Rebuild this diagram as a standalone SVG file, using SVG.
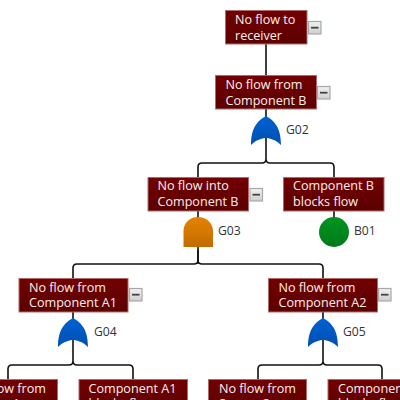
<svg xmlns="http://www.w3.org/2000/svg" width="400" height="400" viewBox="0 0 400 400">
<defs>
<linearGradient id="red" x1="0" y1="0" x2="0" y2="1"><stop offset="0" stop-color="#720000"/><stop offset="1" stop-color="#5c0000"/></linearGradient>
<linearGradient id="blue" x1="0" y1="0" x2="0" y2="1"><stop offset="0" stop-color="#0060d4"/><stop offset="1" stop-color="#0050b0"/></linearGradient>
<linearGradient id="orange" x1="0" y1="0" x2="0" y2="1"><stop offset="0" stop-color="#e68200"/><stop offset="1" stop-color="#c06c00"/></linearGradient>
<linearGradient id="green" x1="0" y1="0" x2="0" y2="1"><stop offset="0" stop-color="#009420"/><stop offset="1" stop-color="#007a1a"/></linearGradient>
<linearGradient id="btn" x1="0" y1="0" x2="0" y2="1"><stop offset="0" stop-color="#f2f2f2"/><stop offset="1" stop-color="#cfcfcf"/></linearGradient>
<path id="or" d="M0 -15C9 -10 15 -3 15 14C10 9 4 7 0 7C-4 7 -10 9 -15 14C-15 -3 -9 -10 0 -15Z" fill="url(#blue)"/>
<g id="minus"><rect x="0.500" y="0.500" width="12.500" height="12.500" fill="url(#btn)" stroke="#a8a8a8" stroke-width="1.200"/><rect x="3" y="5.800" width="7.500" height="1.800" fill="#444"/></g>
</defs>
<style>
.n{fill:url(#red);stroke:#b06a6a;stroke-width:1}
.t{font-family:"Open Sans","Noto Sans",sans-serif;font-size:12.600px;fill:#fbf0f0}
.l{font-family:"Open Sans","Noto Sans",sans-serif;font-size:12.200px;fill:#333}
.c{fill:none;stroke:#111;stroke-width:1.600}
</style>
<g id="connectors">
<path class="c" d="M266 44V76M266 109V145"/>
<path class="c" d="M266 145V159Q266 163 262 163H202Q198 163 198 167V178M266 159Q266 163 270 163H330Q334 163 334 167V178"/>
<path class="c" d="M198 211V264M334 211V232"/>
<path class="c" d="M198 250V260Q198 264 194 264H77Q73 264 73 268V279M198 260Q198 264 202 264H319Q323 264 323 268V279"/>
<path class="c" d="M73 312V345M323 312V345"/>
<path class="c" d="M73 345V361Q73 365 69 365H12Q8 365 8 369V380M73 361Q73 365 77 365H129Q133 365 133 369V380"/>
<path class="c" d="M323 345V361Q323 365 319 365H262Q258 365 258 369V380M323 361Q323 365 327 365H378Q382 365 382 369V380"/>
</g>
<g id="n1"><rect class="n" x="225.500" y="10.500" width="81.500" height="33.500"/><text class="t" x="235" y="24">No flow to</text><text class="t" x="235" y="40">receiver</text><use href="#minus" x="308" y="21"/></g>
<g id="n2"><rect class="n" x="215.500" y="75.500" width="101" height="33.500"/><text class="t" x="225.500" y="89">No flow from</text><text class="t" x="225.500" y="105">Component B</text><use href="#minus" x="317" y="86"/></g>
<g id="G02"><use href="#or" x="266" y="131"/><text class="l" x="286" y="134">G02</text></g>
<g id="n3"><rect class="n" x="148" y="177.500" width="100.500" height="33.500"/><text class="t" x="157.500" y="190">No flow into</text><text class="t" x="157.500" y="206">Component B</text><use href="#minus" x="249.500" y="188"/></g>
<g id="n4"><rect class="n" x="283.500" y="177.500" width="100.500" height="33.500"/><text class="t" x="293" y="190">Component B</text><text class="t" x="293" y="206">blocks flow</text></g>
<g id="G03"><path d="M183.500 247V231C183.500 223 190 217 198 217C206 217 213 223 213 231V247Z" fill="url(#orange)"/><text class="l" x="218" y="235">G03</text></g>
<g id="B01"><circle cx="334" cy="232" r="15" fill="url(#green)"/><text class="l" x="354" y="235">B01</text></g>
<g id="n5"><rect class="n" x="19" y="278.500" width="109" height="33.500"/><text class="t" x="29" y="292">No flow from</text><text class="t" x="29" y="307">Component A1</text><use href="#minus" x="129" y="288"/></g>
<g id="n6"><rect class="n" x="268.500" y="278.500" width="109" height="33.500"/><text class="t" x="278.500" y="292">No flow from</text><text class="t" x="278.500" y="307">Component A2</text><use href="#minus" x="378" y="288"/></g>
<g id="G04"><use href="#or" x="73" y="333"/><text class="l" x="94" y="336">G04</text></g>
<g id="G05"><use href="#or" x="323" y="333"/><text class="l" x="343" y="336">G05</text></g>
<g id="n7"><rect class="n" x="-42" y="379.500" width="99.500" height="33.500"/><text class="t" x="-31" y="393">No flow from</text><text class="t" x="-31" y="408">Source 1</text></g>
<g id="n8"><rect class="n" x="79" y="379.500" width="108.500" height="33.500"/><text class="t" x="88.500" y="393">Component A1</text><text class="t" x="88.500" y="408">blocks flow</text></g>
<g id="n9"><rect class="n" x="208.500" y="379.500" width="98" height="33.500"/><text class="t" x="219" y="393">No flow from</text><text class="t" x="219" y="408">Source 2</text></g>
<g id="n10"><rect class="n" x="328" y="379.500" width="108" height="33.500"/><text class="t" x="338" y="393">Component A2</text><text class="t" x="338" y="408">blocks flow</text></g>
</svg>
